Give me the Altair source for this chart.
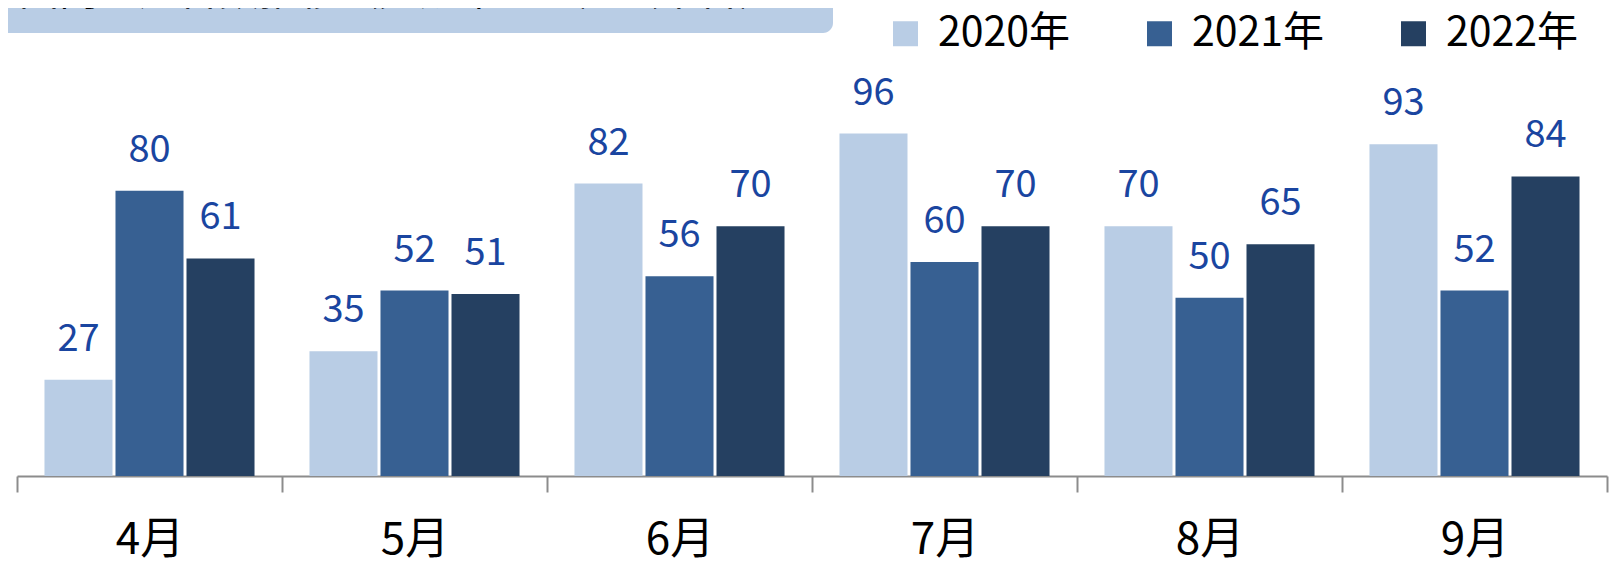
import altair as alt
import pandas as pd

months = ["4月", "5月", "6月", "7月", "8月", "9月"]
years = ["2020年", "2021年", "2022年"]
v2020 = [27, 35, 82, 96, 70, 93]
v2021 = [80, 52, 56, 60, 50, 52]
v2022 = [61, 51, 70, 70, 65, 84]
colors = ["#b9cde5", "#376092", "#254061"]
title_text = "国内生産台数推移（完成車のみ）　（千台）"

rows = []
for yr, vals in zip(years, [v2020, v2021, v2022]):
    for m, v in zip(months, vals):
        rows.append({"month": m, "year": yr, "value": v})
df = pd.DataFrame(rows)

FONT = "Noto Sans CJK JP"

base = alt.Chart(df).encode(
    x=alt.X(
        "month:N",
        sort=months,
        scale=alt.Scale(paddingInner=0, paddingOuter=0),
        axis=alt.Axis(
            title=None,
            tickBand="extent",
            labelAngle=0,
            labelFontSize=44,
            labelFont=FONT,
            labelColor="black",
            labelBaseline="alphabetic",
            labelPadding=61,
            tickSize=16,
            tickColor="#8c8c8c",
            tickWidth=2,
            domainColor="#8c8c8c",
            domainWidth=2,
            grid=False,
        ),
    ),
    xOffset=alt.XOffset(
        "year:N", sort=years, scale=alt.Scale(paddingInner=0.042, paddingOuter=0.387)
    ),
    y=alt.Y("value:Q", scale=alt.Scale(domain=[0, 120]), axis=None),
)

bars = base.mark_bar().encode(
    color=alt.Color(
        "year:N",
        sort=years,
        scale=alt.Scale(domain=years, range=colors),
        legend=alt.Legend(
            orient="none",
            legendX=868,
            legendY=-35,
            direction="horizontal",
            title=None,
            symbolType="square",
            symbolSize=625,
            symbolStrokeWidth=0,
            symbolOpacity=1,
            labelFontSize=41,
            labelFont=FONT,
            labelColor="black",
            labelOffset=12,
            columnPadding=68,
            padding=0,
        ),
    )
)

labels = base.mark_text(
    baseline="alphabetic", dy=-29, fontSize=38, font=FONT, color="#1a45a0"
).encode(text="value:Q")

tdf = pd.DataFrame({"t": [title_text]})
title_box = alt.Chart(tdf).mark_rect(color="#b9cde5", cornerRadius=10).encode(
    x=alt.value(-30), x2=alt.value(816), y=alt.value(-60), y2=alt.value(-15)
)
title_label = alt.Chart(tdf).mark_text(
    align="right", baseline="alphabetic", fontSize=40, font=FONT, color="black"
).encode(x=alt.value(762), y=alt.value(-43), text="t:N")

chart = (
    alt.layer(title_box, title_label, bars, labels)
    .properties(
        width=1590,
        height=428,
        autosize=alt.AutoSizeParams(type="none"),
        padding={"left": 9, "top": 40, "right": 4, "bottom": 86},
    )
    .configure(font=FONT)
    .configure_view(stroke=None)
)

chart.save("out.html", embed_options={"renderer": "svg", "actions": False})
